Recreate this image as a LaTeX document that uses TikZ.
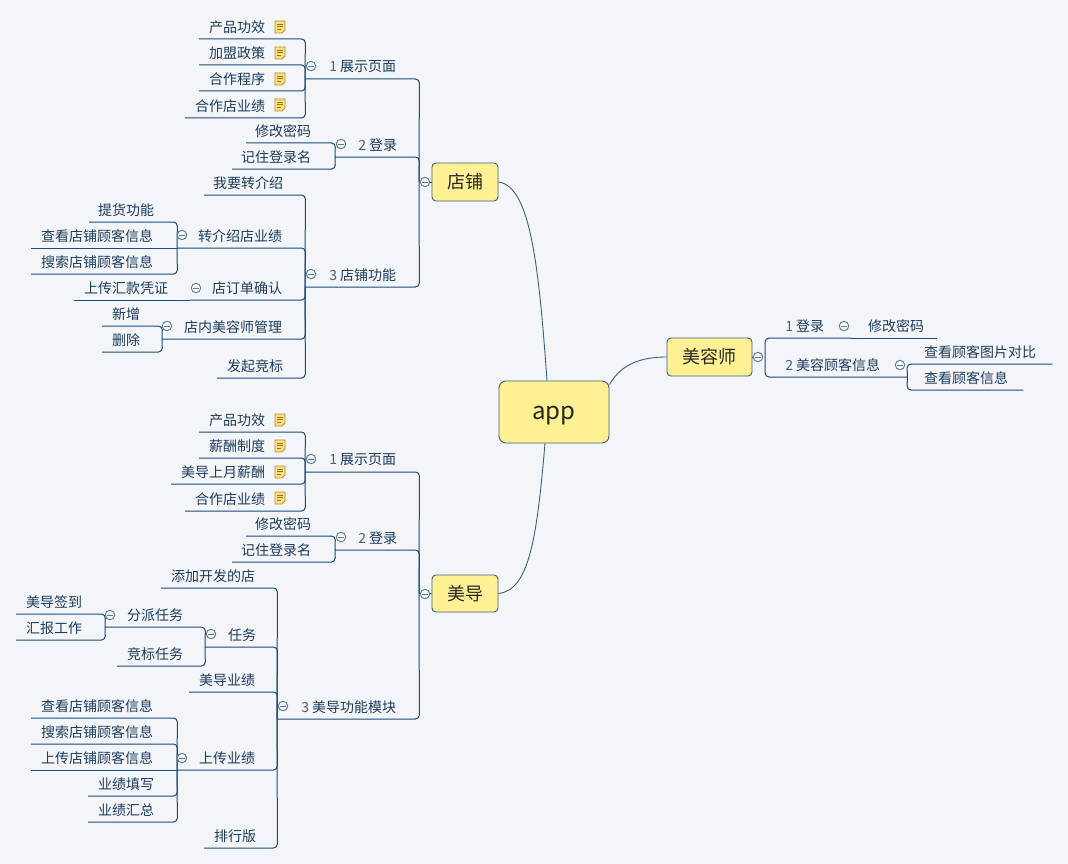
\documentclass[tikz,border=0pt]{standalone}
\usepackage{fontspec}
\setmainfont{Noto Sans CJK SC}
\definecolor{bgc}{HTML}{F3F5F9}
\definecolor{linec}{HTML}{1B4B7A}
\definecolor{txtc}{HTML}{1C3C5C}
\definecolor{numc}{HTML}{4A6078}
\definecolor{boxc}{HTML}{FFF094}
\definecolor{boxl}{HTML}{3E6080}
\definecolor{curvec}{HTML}{3A5F80}
\definecolor{minusc}{HTML}{5E7C90}
\definecolor{notef}{HTML}{FBE080}
\definecolor{noted}{HTML}{BE8E30}
\newcommand{\tpc}[6]{% name, xl, xr, y, text right, text
  \node[topicnode,anchor=south west] (#1) at (#2,#4)
    {\makebox[\dimexpr #3pt-#2pt\relax][r]{#6\hspace*{\dimexpr #3pt-#5pt\relax}}};}
\newcommand{\lnk}[2]{\draw[conn] (#1.south west) -- (#1.south east) -- (#2);}
\newcommand{\lnr}[2]{\draw[conn] (#1.south east) -- (#1.south west) -- (#2);}
\newcommand{\lnflat}[2]{\draw[conn] (#1.south west) -- (#2);}
\newcommand{\nm}[1]{\textcolor{numc}{#1}}
\tikzset{
  topicnode/.style={inner sep=0pt,minimum height=24pt,text=txtc,font=\fontsize{14}{16}\selectfont},
  conn/.style={draw=linec,line width=1pt,rounded corners=4pt},
  mainbox/.style={draw=boxl,fill=boxc,line width=0.9pt,rounded corners=4pt,text=black!85,font=\fontsize{18}{22}\selectfont,inner sep=0pt},
  rootbox/.style={mainbox,rounded corners=7pt,minimum width=110pt,minimum height=62pt,font=\fontsize{24}{28}\selectfont},
  curve/.style={draw=curvec,line width=0.9pt},
  stub/.style={draw=linec,line width=0.9pt},
  minus/.style={circle,draw=minusc,fill=bgc,line width=0.9pt,minimum size=9.5pt,inner sep=0pt,
    path picture={\draw[minusc,line width=0.9pt] ([xshift=-2.6pt]path picture bounding box.center) -- ([xshift=2.6pt]path picture bounding box.center);}},
  notepic/.pic={
    \draw[draw=noted,fill=notef,line width=0.9pt] (-5,-6) -- (5,-6) -- (5,3) -- (2,6) -- (-5,6) -- cycle;
    \draw[draw=noted!80!black,line width=0.7pt] (-3,-3) -- (3,-3) (-3,-0.5) -- (3,-0.5) (-3,2) -- (1,2);
  }
}
\begin{document}
\begin{tikzpicture}[x=1pt,y=-1pt]
\path[fill=bgc,use as bounding box] (0,0) rectangle (1068,864);

% main nodes
\node[rootbox] (app) at (554,412) {\raisebox{-7pt}[20pt][20pt]{app}};
\node[mainbox,minimum width=66pt,minimum height=38pt] (shop) at (465,182) {店铺};
\node[mainbox,minimum width=66pt,minimum height=37pt] (guide) at (465,593.5) {美导};
\node[mainbox,minimum width=85pt,minimum height=38pt] (beaut) at (709.5,357) {美容师};
\coordinate (shopj) at (419,182);
\coordinate (guidej) at (419,594);
\coordinate (beautj) at (765,357);

\draw[curve] ([xshift=-7pt]app.north) .. controls (539,270) and (531,186) .. (shop.east);
\draw[curve] ([xshift=-9pt]app.south) .. controls (537,535) and (530,590) .. (guide.east);
\draw[curve] ([yshift=-4pt]app.north east) .. controls (619,368) and (635,357) .. (beaut.west);

% shop branch
\tpc{a1}{305}{419}{79}{396}{\nm{1} 展示页面}
\tpc{a2}{335}{419}{157}{397}{\nm{2} 登录}
\tpc{a3}{305}{419}{287}{396}{\nm{3} 店铺功能}
\tpc{a11}{199}{305}{39}{265}{产品功效}
\tpc{a12}{199}{305}{65}{265}{加盟政策}
\tpc{a13}{199}{305}{91}{265}{合作程序}
\tpc{a14}{185}{305}{118}{265}{合作店业绩}
\tpc{a21}{246}{335}{143}{311}{修改密码}
\tpc{a22}{232}{335}{169}{311}{记住登录名}
\tpc{a31}{204}{305}{195}{283}{我要转介绍}
\tpc{a32}{177}{305}{248}{282}{转介绍店业绩}
\tpc{a33}{190}{305}{300}{282}{店订单确认}
\tpc{a34}{162}{305}{339}{282}{店内美容师管理}
\tpc{a35}{217}{305}{378}{283}{发起竞标}
\tpc{a321}{89}{177}{222}{154}{提货功能}
\tpc{a322}{31}{177}{248}{153}{查看店铺顾客信息}
\tpc{a323}{31}{177}{274}{153}{搜索店铺顾客信息}
\tpc{a331}{74}{190}{300}{168}{上传汇款凭证}
\tpc{a341}{102}{162}{326}{140}{新增}
\tpc{a342}{102}{162}{352}{140}{删除}

\lnk{a1}{shopj}\lnk{a2}{shopj}\lnk{a3}{shopj}
\lnk{a11}{a1.south west}\lnk{a12}{a1.south west}\lnk{a13}{a1.south west}\lnk{a14}{a1.south west}
\lnk{a21}{a2.south west}\lnk{a22}{a2.south west}
\lnk{a31}{a3.south west}\lnk{a32}{a3.south west}\lnk{a33}{a3.south west}\lnk{a34}{a3.south west}\lnk{a35}{a3.south west}
\lnk{a321}{a32.south west}\lnflat{a322}{a32.south west}\lnk{a323}{a32.south west}
\lnflat{a331}{a33.south west}
\lnk{a341}{a34.south west}\lnk{a342}{a34.south west}

% guide branch
\tpc{b1}{305}{419}{472}{396}{\nm{1} 展示页面}
\tpc{b2}{335}{419}{550}{397}{\nm{2} 登录}
\tpc{b3}{277}{419}{719}{396}{\nm{3} 美导功能模块}
\tpc{b11}{199}{305}{432}{265}{产品功效}
\tpc{b12}{199}{305}{458}{265}{薪酬制度}
\tpc{b13}{171}{305}{484}{265}{美导上月薪酬}
\tpc{b14}{185}{305}{511}{265}{合作店业绩}
\tpc{b21}{246}{335}{536}{311}{修改密码}
\tpc{b22}{232}{335}{562}{311}{记住登录名}
\tpc{b31}{161}{277}{588}{255}{添加开发的店}
\tpc{b32}{205}{277}{647}{256}{任务}
\tpc{b33}{189}{277}{692}{255}{美导业绩}
\tpc{b34}{177}{277}{770}{255}{上传业绩}
\tpc{b35}{204}{277}{848}{256}{排行版}
\tpc{b321}{105}{205}{627}{183}{分派任务}
\tpc{b322}{117}{205}{666}{183}{竞标任务}
\tpc{b3211}{16}{105}{614}{82}{美导签到}
\tpc{b3212}{16}{105}{640}{82}{汇报工作}
\tpc{b341}{31}{177}{718}{153}{查看店铺顾客信息}
\tpc{b342}{31}{177}{744}{153}{搜索店铺顾客信息}
\tpc{b343}{31}{177}{770}{153}{上传店铺顾客信息}
\tpc{b344}{88}{177}{796}{154}{业绩填写}
\tpc{b345}{88}{177}{822}{154}{业绩汇总}

\lnk{b1}{guidej}\lnk{b2}{guidej}\lnk{b3}{guidej}
\lnk{b11}{b1.south west}\lnk{b12}{b1.south west}\lnk{b13}{b1.south west}\lnk{b14}{b1.south west}
\lnk{b21}{b2.south west}\lnk{b22}{b2.south west}
\lnk{b31}{b3.south west}\lnk{b32}{b3.south west}\lnk{b33}{b3.south west}\lnk{b34}{b3.south west}\lnk{b35}{b3.south west}
\lnk{b321}{b32.south west}\lnk{b322}{b32.south west}
\lnk{b3211}{b321.south west}\lnk{b3212}{b321.south west}
\lnk{b341}{b34.south west}\lnk{b342}{b34.south west}\lnflat{b343}{b34.south west}\lnk{b344}{b34.south west}\lnk{b345}{b34.south west}

% beautician branch
\tpc{c1}{765}{851}{338}{824}{\nm{1} 登录}
\tpc{c11}{851}{937}{338}{924}{修改密码}
\tpc{c2}{765}{907}{377}{880}{\nm{2} 美容顾客信息}
\tpc{c21}{907}{1052}{364}{1036}{查看顾客图片对比}
\tpc{c22}{907}{1023}{390}{1008}{查看顾客信息}
\lnr{c1}{beautj}\lnr{c2}{beautj}
\draw[conn] (c11.south east) -- (c1.south east);
\lnr{c21}{c2.south east}\lnr{c22}{c2.south east}

% collapse markers
\node[minus] (ma) at (425,182) {};
\node[minus] (mb) at (425,594) {};
\node[minus] (mc) at (758,357) {};
\draw[stub] (shop.west) -- (ma);
\draw[stub] (guide.west) -- (mb);
\draw[stub] (beaut.east) -- (mc);
\node[minus] (ma1) at (311,66) {};
\node[minus] (ma2) at (341,144) {};
\node[minus] (ma3) at (311,274) {};
\node[minus] (ma32) at (182,235) {};
\node[minus] (ma33) at (196,288) {};
\node[minus] (ma34) at (167,326) {};
\node[minus] (mb1) at (311,459) {};
\node[minus] (mb2) at (341,537) {};
\node[minus] (mb3) at (283,706) {};
\node[minus] (mb32) at (211,634) {};
\node[minus] (mb321) at (110,615) {};
\node[minus] (mb34) at (182,758) {};
\node[minus] (mc1) at (844,326) {};
\node[minus] (mc2) at (900,365) {};

% note icons
\foreach \ny in {27,53,79,105,420,446,472,498} \pic at (280,\ny) {notepic};
\end{tikzpicture}
\end{document}
